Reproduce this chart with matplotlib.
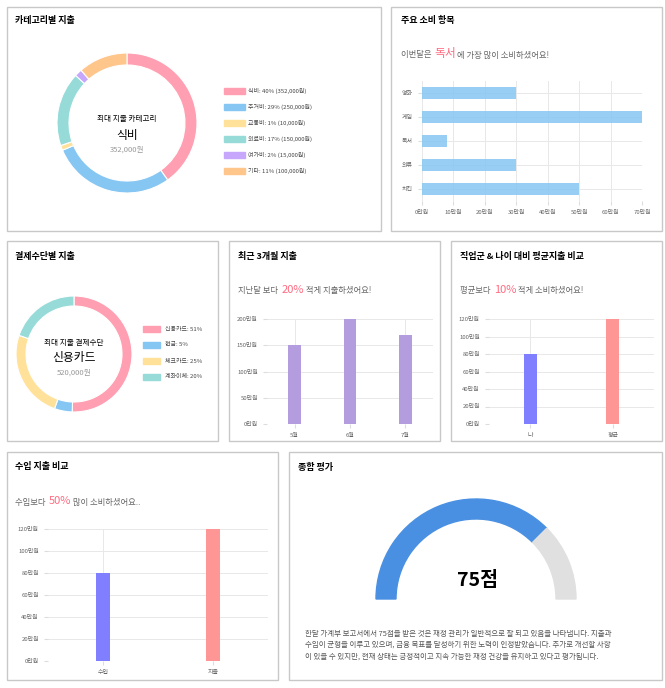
import numpy as np
import matplotlib
matplotlib.use("Agg")
import matplotlib.pyplot as plt
from matplotlib.patches import Rectangle, Wedge

plt.rcParams['font.family'] = ['Noto Sans CJK KR', 'DejaVu Sans']

W, H = 665, 688

cat_labels = ['식비', '주거비', '교통비', '외료비', '여가비', '기타']
cat_values = [352000, 250000, 10000, 150000, 15000, 100000]
cat_pcts = [40, 29, 1, 17, 2, 11]
cat_colors = ['#ff9fb1', '#86c6f3', '#ffe19a', '#96dbd8', '#c6a7fb', '#ffc68c']

item_labels = ['영화', '게임', '독서', '의류', '치킨']
item_values = [30, 70, 8, 30, 50]

pay_labels = ['신용카드', '현금', '체크카드', '계좌이체']
pay_values = [51, 5, 25, 20]
pay_colors = ['#ff9fb1', '#86c6f3', '#ffe19a', '#96dbd8']

month_labels = ['5월', '6월', '7월']
month_values = [150, 200, 170]

cmp_labels = ['나', '평균']
cmp_values = [80, 120]

inc_labels = ['수입', '지출']
inc_values = [80, 120]

score = 75

fig = plt.figure(figsize=(W / 100, H / 100), dpi=100)


def box(x, y, w, h):
    return [x / W, 1 - (y + h) / H, w / W, h / H]


def txt(x, y, s, **kw):
    kw.setdefault('va', 'center')
    fig.text(x / W, 1 - y / H, s, **kw)


# 패널 테두리
for x0, y0, x1, y1 in [(7, 7, 381, 231), (391, 7, 662, 231), (7, 241, 218, 441),
                       (229, 241, 440, 441), (451, 241, 662, 441),
                       (7, 452, 278, 680), (289, 452, 662, 680)]:
    fig.patches.append(Rectangle((x0 / W, 1 - y1 / H), (x1 - x0) / W, (y1 - y0) / H,
                                 transform=fig.transFigure, fill=False,
                                 ec='#c8c8c8', lw=1))

title_kw = dict(fontsize=6.5, fontweight='bold')
txt(15, 20, '카테고리별 지출', **title_kw)
txt(401, 20, '주요 소비 항목', **title_kw)
txt(15, 257, '결제수단별 지출', **title_kw)
txt(238, 257, '최근 3개월 지출', **title_kw)
txt(460, 257, '직업군 & 나이 대비 평균지출 비교', **title_kw)
txt(15, 467, '수입 지출 비교', **title_kw)
txt(298, 467, '종합 평가', **title_kw)


def donut(cx, cy, r, width, values, colors):
    ax = fig.add_axes(box(cx - r - 2, cy - r - 2, 2 * r + 4, 2 * r + 4))
    ax.set_xlim(-r - 2, r + 2)
    ax.set_ylim(-r - 2, r + 2)
    ax.set_aspect('equal')
    ax.axis('off')
    total = sum(values)
    start = 90.0
    for v, c in zip(values, colors):
        span = 360.0 * v / total
        ax.add_patch(Wedge((0, 0), r, start - span, start, width=width,
                           fc=c, ec='white', lw=0.8))
        start -= span


# 카테고리별 지출
donut(127, 123, 70, 12, cat_values, cat_colors)
txt(127, 119, '최대 지출 카테고리', fontsize=5.5, ha='center')
txt(127, 135, cat_labels[0], fontsize=8.5, ha='center')
txt(127, 150, f'{cat_values[0]:,}원', fontsize=5.5, ha='center', color='#999999')
for i, (lab, p, v, c) in enumerate(zip(cat_labels, cat_pcts, cat_values, cat_colors)):
    y = 91 + 16 * i
    fig.patches.append(Rectangle((224 / W, 1 - (y + 3) / H), 21 / W, 6 / H,
                                 transform=fig.transFigure, color=c))
    txt(248, y, f'{lab}: {p}% ({v:,}원)', fontsize=4.3, color='#444444')

# 결제수단별 지출
donut(74, 354, 58, 10, pay_values, pay_colors)
txt(74, 343, '최대 지출 결제수단', fontsize=5.5, ha='center')
txt(74, 358, pay_labels[0], fontsize=8.5, ha='center')
txt(74, 373, '520,000원', fontsize=5.5, ha='center', color='#999999')
for i, (lab, v, c) in enumerate(zip(pay_labels, pay_values, pay_colors)):
    y = 329 + 16 * i
    fig.patches.append(Rectangle((143 / W, 1 - (y + 3) / H), 17 / W, 6 / H,
                                 transform=fig.transFigure, color=c))
    txt(165, y, f'{lab}: {v}%', fontsize=4.3, color='#444444')


def style(ax):
    for s in ax.spines.values():
        s.set_visible(False)
    ax.tick_params(length=3, color='#dddddd', labelsize=4.3, labelcolor='#666666')
    ax.grid(True, color='#e8e8e8', lw=0.7)
    ax.set_axisbelow(True)


# 주요 소비 항목
txt(401, 55, '이번달은 ', fontsize=6, color='#666666')
txt(434, 54, '독서', fontsize=8.5, color='#ff6b81')
txt(457, 55, '에 가장 많이 소비하셨어요!', fontsize=6, color='#666666')
ax = fig.add_axes(box(422, 81, 220, 120))
ax.barh(item_labels, item_values, height=0.5, color='#86c6f3', alpha=0.85)
ax.set_xlim(0, 70)
ax.set_ylim(4.5, -0.5)
ax.set_xticks(range(0, 80, 10))
ax.set_xticklabels([f'{v}만원' for v in range(0, 80, 10)])
style(ax)

# 최근 3개월 지출
txt(238, 291, '지난달 보다 ', fontsize=6, color='#666666')
txt(282, 290, '20%', fontsize=8, color='#ff6b81')
txt(304, 291, ' 적게 지출하셨어요!', fontsize=6, color='#666666')
ax = fig.add_axes(box(267, 319, 166, 105))
ax.bar(month_labels, month_values, width=0.23, color='#b39ddf')
ax.set_ylim(0, 200)
ax.set_xlim(-0.5, 2.5)
ax.set_yticks(range(0, 250, 50))
ax.set_yticklabels([f'{v}만원' for v in range(0, 250, 50)])
style(ax)

# 직업군 & 나이 대비
txt(460, 291, '평균보다 ', fontsize=6, color='#666666')
txt(494, 290, '10%', fontsize=8, color='#ff6b81')
txt(516, 291, ' 적게 소비하셨어요!', fontsize=6, color='#666666')
ax = fig.add_axes(box(489, 319, 165, 105))
ax.bar(cmp_labels, cmp_values, width=0.16, color=['#7f7fff', '#ff9696'])
ax.set_ylim(0, 120)
ax.set_xlim(-0.5, 1.5)
ax.set_yticks(range(0, 140, 20))
ax.set_yticklabels([f'{v}만원' for v in range(0, 140, 20)])
style(ax)

# 수입 지출 비교
txt(15, 502, '수입보다 ', fontsize=6, color='#666666')
txt(49, 501, '50%', fontsize=8, color='#ff6b81')
txt(71, 502, ' 많이 소비하셨어요..', fontsize=6, color='#666666')
ax = fig.add_axes(box(48, 529, 220, 132))
ax.bar(inc_labels, inc_values, width=0.12, color=['#7f7fff', '#ff9696'])
ax.set_ylim(0, 120)
ax.set_xlim(-0.5, 1.5)
ax.set_yticks(range(0, 140, 20))
ax.set_yticklabels([f'{v}만원' for v in range(0, 140, 20)])
style(ax)

# 종합 평가 게이지
ax = fig.add_axes(box(366, 489, 220, 120))
ax.set_xlim(-110, 110)
ax.set_ylim(-10, 110)
ax.set_aspect('equal')
ax.axis('off')
split = 180 - 180 * score / 100
ax.add_patch(Wedge((0, 0), 100, split, 180, width=20, color='#4a90e2'))
ax.add_patch(Wedge((0, 0), 100, 0, split, width=20, color='#e0e0e0'))
txt(477, 580, f'{score}점', fontsize=14, fontweight='bold', ha='center')
desc = ('한달 가계부 보고서에서 75점을 받은 것은 재정 관리가 일반적으로 잘 되고 있음을 나타냅니다. 지출과\n'
        '수입이 균형을 이루고 있으며, 금융 목표를 달성하기 위한 노력이 인정받았습니다. 추가로 개선할 사항\n'
        '이 있을 수 있지만, 현재 상태는 긍정적이고 지속 가능한 재정 건강을 유지하고 있다고 평가됩니다.')
txt(305, 645, desc, fontsize=5.4, color='#555555', linespacing=1.55)

fig.savefig('out.png', dpi=100)
